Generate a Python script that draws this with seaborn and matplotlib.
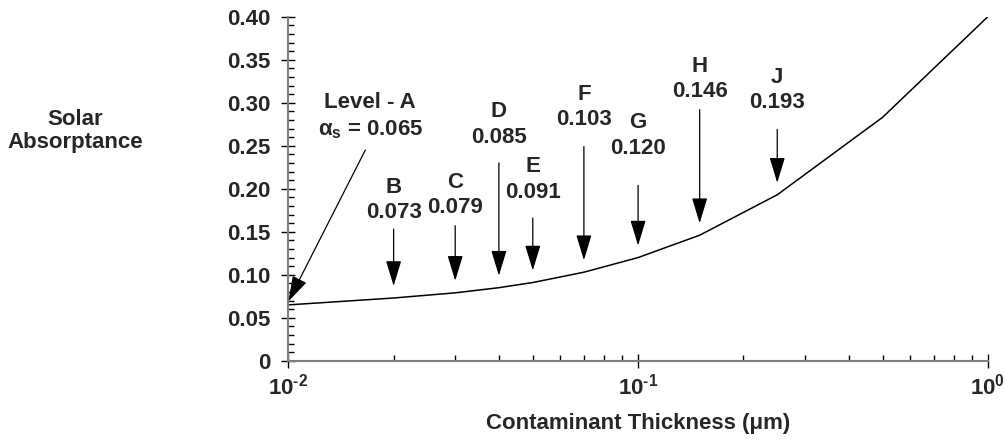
import numpy as np
import pandas as pd
import seaborn as sns
import matplotlib.pyplot as plt

# curve
thickness = [0.01, 0.02, 0.03, 0.04, 0.05, 0.07, 0.10, 0.15, 0.25, 0.50, 1.00]
absorptance = [0.065, 0.073, 0.079, 0.085, 0.091, 0.103, 0.120, 0.146, 0.193, 0.283, 0.400]

# level labels
levels = ['B', 'C', 'D', 'E', 'F', 'G', 'H', 'J']
level_x = [0.02, 0.03, 0.04, 0.05, 0.07, 0.10, 0.15, 0.25]
level_val = [0.073, 0.079, 0.085, 0.091, 0.103, 0.120, 0.146, 0.193]
text_y = [0.172, 0.178, 0.260, 0.196, 0.280, 0.247, 0.313, 0.300]
tail_y = [0.153, 0.157, 0.230, 0.166, 0.249, 0.204, 0.292, 0.269]

sns.set_theme(style='ticks')
plt.rcParams['font.family'] = ['Liberation Sans', 'DejaVu Sans']
plt.rcParams['font.weight'] = 'bold'
plt.rcParams['mathtext.fontset'] = 'custom'
plt.rcParams['mathtext.rm'] = 'Liberation Sans:bold'
plt.rcParams['mathtext.bf'] = 'Liberation Sans:bold'
plt.rcParams['mathtext.it'] = 'Liberation Sans:bold'
FS = 16

fig = plt.figure(figsize=(10.05, 4.4), dpi=100)
ax = fig.add_axes([0.2869, 0.180, 0.6960, 0.782])

df = pd.DataFrame({'thickness': thickness, 'absorptance': absorptance})
sns.lineplot(data=df, x='thickness', y='absorptance', color='black', lw=1.1, ax=ax)

ax.set_xscale('log')
ax.set_xlim(0.01, 1)
ax.set_ylim(0, 0.40)
ax.set_xticks([0.01, 0.1, 1])
ax.set_xticklabels([r'$\mathbf{10^{‐2}}$', r'$\mathbf{10^{‐1}}$', r'$\mathbf{10^{0}}$'], fontsize=FS)
ax.set_xticks([k * 10.0 ** e for e in (-2, -1) for k in range(2, 10)], minor=True)
ax.set_yticks(np.arange(0, 0.41, 0.05))
ax.set_yticklabels(['0'] + ['%.2f' % v for v in np.arange(0.05, 0.41, 0.05)], fontsize=FS, fontweight='bold')
ax.set_yticks(np.arange(0, 0.401, 0.01), minor=True)
ax.tick_params(which='major', direction='inout', length=10, width=1, color='black', pad=8)
ax.tick_params(which='minor', direction='in', length=4, width=1, color='black')
ax.tick_params(axis='x', which='major', pad=4)

for s in ['top', 'right']:
    ax.spines[s].set_visible(False)
for s in ['left', 'bottom']:
    ax.spines[s].set_color('#808080')
    ax.spines[s].set_linewidth(1.5)

ax.set_xlabel('Contaminant Thickness (μm)', fontsize=FS, fontweight='bold', labelpad=10)
ax.set_ylabel('')
fig.text(0.0746, 0.702, 'Solar\nAbsorptance', ha='center', va='center',
         fontsize=FS, fontweight='bold', linespacing=1.15)

arrow = dict(arrowstyle='-|>,head_length=15.8,head_width=4.8', mutation_scale=1,
             color='black', lw=0.9, shrinkA=0, shrinkB=0)

for lab, x, v, ty, tl in zip(levels, level_x, level_val, text_y, tail_y):
    ax.annotate('', xy=(x, v + 0.014), xytext=(x, tl), arrowprops=arrow)
    ax.text(x, ty, '%.3f' % v, ha='center', va='center', fontsize=FS, fontweight='bold')
    ax.annotate(lab, xy=(x, ty), xytext=(0, 25.5), textcoords='offset pixels',
                ha='center', va='center', fontsize=FS, fontweight='bold')

# level A
ax.annotate('', xy=(0.01, 0.069), xytext=(0.0166, 0.245), arrowprops=arrow)
ax.text(0.01714, 0.300, 'Level - A', ha='center', va='center', fontsize=FS, fontweight='bold')
ax.text(0.01714, 0.269, r'$\alpha_\mathbf{s}$ = 0.065', ha='center', va='center',
        fontsize=FS, fontweight='bold')

fig.savefig('out.png', dpi=100)
